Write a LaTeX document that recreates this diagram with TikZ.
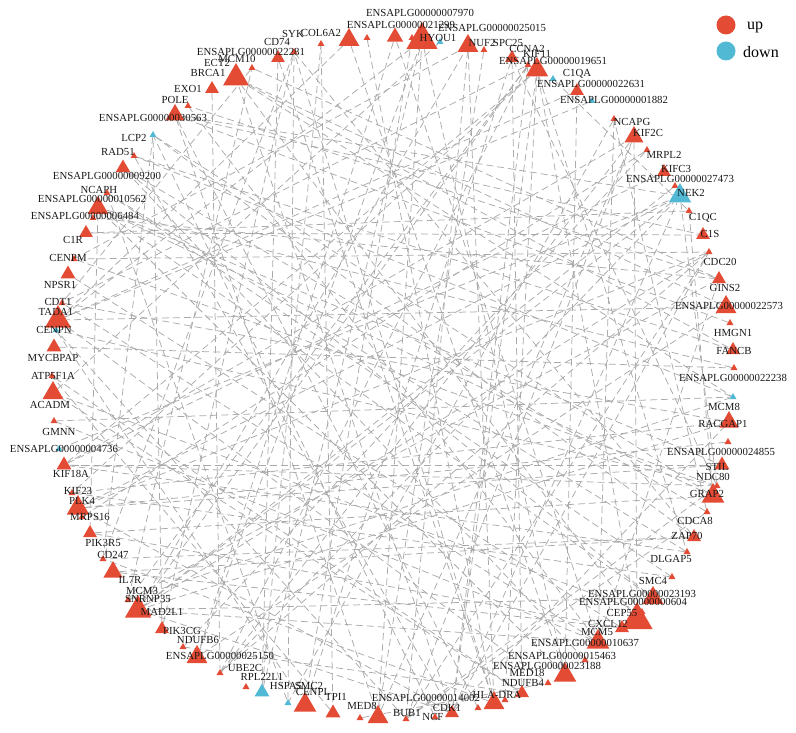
\documentclass[tikz,border=0pt]{standalone}
\usepackage{fontspec}
\setmainfont{Liberation Serif}
\usetikzlibrary{shapes.geometric,backgrounds}
\definecolor{up}{RGB}{228,75,52}
\definecolor{dn}{RGB}{82,185,212}
\definecolor{edgec}{RGB}{170,170,170}
\tikzset{
  tri/.style={regular polygon,regular polygon sides=3,draw=none,inner sep=0pt},
  lbl/.style={inner sep=0pt,font=\fontsize{10.8}{11}\selectfont,text=black!90},
  edge/.style={draw=edgec,line width=0.75pt,dash pattern=on 7pt off 4pt},
  legtxt/.style={inner sep=0pt,anchor=west,font=\fontsize{16}{18}\selectfont}
}
\begin{document}
\begin{tikzpicture}[x=1pt,y=-1pt]
\path[use as bounding box] (0,0) rectangle (796,733);
% triangles: name/x/y/size/colour
\foreach \n/\x/\y/\s/\c in {
POLE/188/106/8/up, E30563/175/115/22/up, EXO1/212/89/16/up, BRCA1/236/78/30/up,
MCM10/252/68/8/up, CD74/278/58/16/up, SYK/294/52/8/up, COL6A2/321/44/8/up,
U1/349/40/24/up, U2/367/38/8/up, E21299/395/37/19/up, E7970/412/38/8/up,
HYOU1/422/40/36/up, U3/440/42/8/dn, NUF2/468/46/24/up, E25015/484/50/8/up,
SPC25/512/58/16/up, CCNA2/528/65/8/up, KIF11/537/70/26/up, C1QA/553/79/8/dn,
E22631/577/91/16/up, E1882/592/101/8/dn, NCAPG/614/119/8/up, KIF2C/634/137/22/up,
MRPL2/647/150/8/up, KIFC3/664/172/16/up, E27473/675/186/8/up, NEK2/680/196/26/dn,
C1QC/689/211/8/up, C1S/703/235/16/up, CDC20/709/252/8/up, GINS2/719/279/16/up,
E22573/726/307/24/up, HMGN1/730/323/8/up, FANCB/733/350/16/up, E22238/734/368/8/up,
MCM8/733/397/8/dn, RACGAP1/729/422/22/up, E24855/728/442/8/up, STIL/722/465/17/up,
NDC80/717/486/8/up, GRAP2/713/496/26/up, CDCA8/707/512/8/up, ZAP70/694/537/16/up,
DLGAP5/687/552/8/up, SMC4/672/577/8/up, E23193/653/598/24/up, E604/642/612/8/up,
CEP55/637/620/36/up, CXCL12/622/628/16/up, MCM5/598/642/26/up, E15463/585/660/8/up,
E23188/565/675/26/up, MED18/548/683/8/up, NDUFB4/522/693/16/up, U4/505/700/8/up,
HLADRA/494/703/24/up, U5/478/708/8/up, CDK1/452/713/16/up, NCF/435/717/8/up,
BUB1/406/719/8/up, U6/378/717/24/up, MED8/360/718/8/up, TPI1/333/713/17/up,
CENPL/305/705/26/up, SMC2/288/703/8/dn, HSPA5/262/692/17/dn, RPL22L1/246/687/8/up,
UBE2C/220/673/8/up, E25150/197/657/24/up, NDUFB6/183/647/8/up, PIK3CG/162/629/16/up,
SNRNP35/148/614/8/up, MAD2L1/138/610/30/up, MCM3/128/600/8/up, IL7R/113/572/22/up,
CD247/103/559/8/up, PIK3R5/90/533/16/up, MRPS16/82/517/8/up, PLK4/78/508/26/up,
KIF23/72/493/8/up, KIF18A/64/465/17/up, E4736/59/449/8/dn, GMNN/54/421/8/up,
ACADM/53/393/24/up, ATP5F1A/52/376/8/up, MYCBPAP/54/347/17/up, CENPN/56/330/8/dn,
TADA1/58/320/30/up, CDT1/62/303/8/up, NPSR1/68/274/17/up, CENPM/74/259/8/up,
C1R/86/233/16/up, E6484/93/218/8/up, E10562/98/208/24/up, NCAPH/107/193/8/up,
E9200/123/168/17/up, RAD51/134/156/8/up, LCP2/153/135/8/dn}
  \node[tri,fill=\c,minimum size=\s*1pt] (\n) at (\x,\y) {};
% labels
\foreach \n/\x/\y/\t in {
POLE/175/100/POLE, E30563/153/118/ENSAPLG00000030563, EXO1/188/89/EXO1,
BRCA1/208/73/BRCA1, ECT2/217/63/ECT2, MCM10/237/59/MCM10,
E22281/251/52/ENSAPLG00000022281, CD74/277/42/CD74, SYK/293/34/SYK,
COL6A2/321/33/COL6A2, E7970/420/13/ENSAPLG00000007970, E21299/401/25/ENSAPLG00000021299,
HYOU1/438/38/HYOU1, E25015/492/28/ENSAPLG00000025015, NUF2/482/43/NUF2,
SPC25/508/43/SPC25, CCNA2/527/49/CCNA2, KIF11/537/54/KIF11,
E19651/553/61/ENSAPLG00000019651, C1QA/577/74/C1QA, E22631/591/84/ENSAPLG00000022631,
E1882/614/100/ENSAPLG00000001882, NCAPG/632/122/NCAPG, KIF2C/648/133/KIF2C,
MRPL2/664/155/MRPL2, KIFC3/676/169/KIFC3, E27473/680/179/ENSAPLG00000027473,
NEK2/691/193/NEK2, C1QC/703/218/C1QC, C1S/710/234/C1S, CDC20/720/262/CDC20,
GINS2/725/288/GINS2, E22573/729/306/ENSAPLG00000022573, HMGN1/733/333/HMGN1,
FANCB/734/351/FANCB, E22238/733/378/ENSAPLG00000022238, MCM8/724/407/MCM8,
RACGAP1/723/424/RACGAP1, E24855/721/452/ENSAPLG00000024855, STIL/717/467/STIL,
NDC80/713/477/NDC80, GRAP2/707/494/GRAP2, CDCA8/695/521/CDCA8, ZAP70/687/536/ZAP70,
DLGAP5/671/559/DLGAP5, SMC4/653/581/SMC4, E23193/642/594/ENSAPLG00000023193,
E604/633/602/ENSAPLG00000000604, CEP55/622/613/CEP55, CXCL12/608/624/CXCL12,
MCM5/597/632/MCM5, E10637/585/643/ENSAPLG00000010637, E15463/562/656/ENSAPLG00000015463,
E23188/547/666/ENSAPLG00000023188, MED18/527/673/MED18, NDUFB4/523/683/NDUFB4,
HLADRA/497/695/HLA-DRA, E14002/426/698/ENSAPLG00000014002, CDK1/447/708/CDK1,
NCF/433/717/NCF, BUB1/407/713/BUB1, MED8/362/706/MED8, TPI1/336/697/TPI1,
CENPL/313/692/CENPL, SMC2/309/686/SMC2, HSPA5/286/686/HSPA5, RPL22L1/262/677/RPL22L1,
UBE2C/245/668/UBE2C, E25150/220/656/ENSAPLG00000025150, NDUFB6/198/640/NDUFB6,
PIK3CG/182/631/PIK3CG, MAD2L1/162/612/MAD2L1, SNRNP35/148/599/SNRNP35,
MCM3/142/591/MCM3, IL7R/130/580/IL7R, CD247/113/555/CD247, PIK3R5/103/543/PIK3R5,
MRPS16/90/517/MRPS16, PLK4/82/501/PLK4, KIF23/78/491/KIF23, KIF18A/71/474/KIF18A,
E4736/64/449/ENSAPLG00000004736, GMNN/59/432/GMNN, ACADM/50/405/ACADM,
ATP5F1A/53/376/ATP5F1A, MYCBPAP/53/358/MYCBPAP, CENPN/54/330/CENPN,
TADA1/56/312/TADA1, CDT1/58/302/CDT1, NPSR1/60/285/NPSR1, CENPM/68/258/CENPM,
C1R/73/240/C1R, E6484/85/216/ENSAPLG00000006484, E10562/92/199/ENSAPLG00000010562,
NCAPH/99/190/NCAPH, E9200/107/176/ENSAPLG00000009200, RAD51/118/152/RAD51,
LCP2/134/138/LCP2}
  \node[lbl] (l\n) at (\x,\y) {\t};
% legend
\node[circle,fill=up,minimum size=19pt,inner sep=0pt] (legup) at (726,25) {};
\node[legtxt] (leguptxt) at (747,27) {up};
\node[circle,fill=dn,minimum size=19pt,inner sep=0pt] (legdn) at (726,51) {};
\node[legtxt] (legdntxt) at (743,52) {down};
% edges
\begin{pgfonlayer}{background}
\foreach \a/\b in {
CDK1/CCNA2, CDK1/MAD2L1, CDK1/CDC20, CDK1/KIF11, CDK1/NEK2, CDK1/PLK4,
CDK1/RACGAP1, CDK1/BRCA1, CCNA2/MCM3, CCNA2/MAD2L1,
CCNA2/UBE2C, CCNA2/CDT1, BUB1/CDC20, BUB1/NDC80, BUB1/NUF2,
BUB1/KIF2C, BUB1/CENPN, MAD2L1/CDC20, MAD2L1/NUF2, MAD2L1/MCM5,
CDC20/UBE2C, CDC20/PLK4, NDC80/SPC25, NDC80/CENPN,
NDC80/KIF18A, NUF2/CENPM, SPC25/CENPL, KIF11/KIF23, KIF11/KIF18A,
KIF11/CEP55, KIF11/DLGAP5, KIF2C/KIF18A, KIF2C/CEP55, KIF23/RACGAP1,
KIF23/SMC4, RACGAP1/MAD2L1, PLK4/STIL,
PLK4/NEK2, STIL/KIF18A, CEP55/BRCA1, DLGAP5/KIF18A, DLGAP5/NCAPH, CDCA8/NCAPG,
CDCA8/BUB1, NCAPG/SMC2, NCAPH/SMC4, NCAPH/SMC2,
NEK2/NDC80, NEK2/MAD2L1, MCM3/MCM10, MCM3/MCM8, MCM3/GINS2,
MCM5/GINS2, MCM5/CDT1, MCM5/POLE, MCM5/GMNN, MCM10/GINS2, MCM10/CDT1, MCM8/RAD51,
GINS2/POLE, RAD51/FANCB, RAD51/CDK1, BRCA1/FANCB, BRCA1/MCM8,
EXO1/UBE2C, CENPN/CENPL, CENPM/NDC80, CENPM/CDC20, C1R/C1S,
ZAP70/LCP2, ZAP70/CD247, ZAP70/SYK, LCP2/GRAP2, LCP2/CD247, SYK/CD247,
IL7R/ZAP70, IL7R/CXCL12, PIK3CG/SYK, PIK3CG/LCP2, PIK3R5/CXCL12,
PIK3R5/GRAP2, CD74/HLADRA, HLADRA/CD247, HLADRA/SYK, C1QA/C1QC,
C1QC/C1R, HSPA5/HYOU1, HSPA5/COL6A2, HYOU1/TADA1, TPI1/ATP5F1A,
ATP5F1A/NDUFB4, NDUFB4/NDUFB6, ACADM/NDUFB4,
MRPL2/MRPS16, MRPL2/NDUFB6, MED8/MED18, TADA1/MED18,
UBE2C/KIF2C, UBE2C/NEK2, E30563/NEK2, E30563/C1S, E22573/TADA1, E22573/BRCA1,
E23193/MAD2L1, E23193/E10562, E23188/E10562, E23188/HYOU1, E25150/HYOU1,
E25150/E22573, E10562/GRAP2, E10562/STIL, E9200/E23193, E9200/CDCA8, E21299/E25150,
E21299/MCM5, U1/TADA1, U1/E23188, U6/HYOU1, U6/E30563, U6/KIF2C, E22631/TADA1,
E22631/E23188, E6484/GINS2, E4736/NEK2, E1882/TADA1, E27473/MAD2L1, E22238/E10562,
E24855/PLK4, E15463/E9200, E25015/U6, E604/ACADM, E7970/CENPL, U2/HLADRA, U3/ACADM,
U4/KIF11, U5/E30563, NCF/LCP2, HMGN1/E30563, KIFC3/KIF18A, MYCBPAP/E22238,
NPSR1/CXCL12, E10562/PIK3R5, CD74/HSPA5, COL6A2/TPI1, SYK/SMC2, C1QC/GRAP2,
NUF2/HLADRA, SPC25/NDUFB4, NCAPG/MCM5, GMNN/MCM8, CDT1/RACGAP1}
  \draw[edge] (\a) -- (\b);
\end{pgfonlayer}
\end{tikzpicture}
\end{document}
